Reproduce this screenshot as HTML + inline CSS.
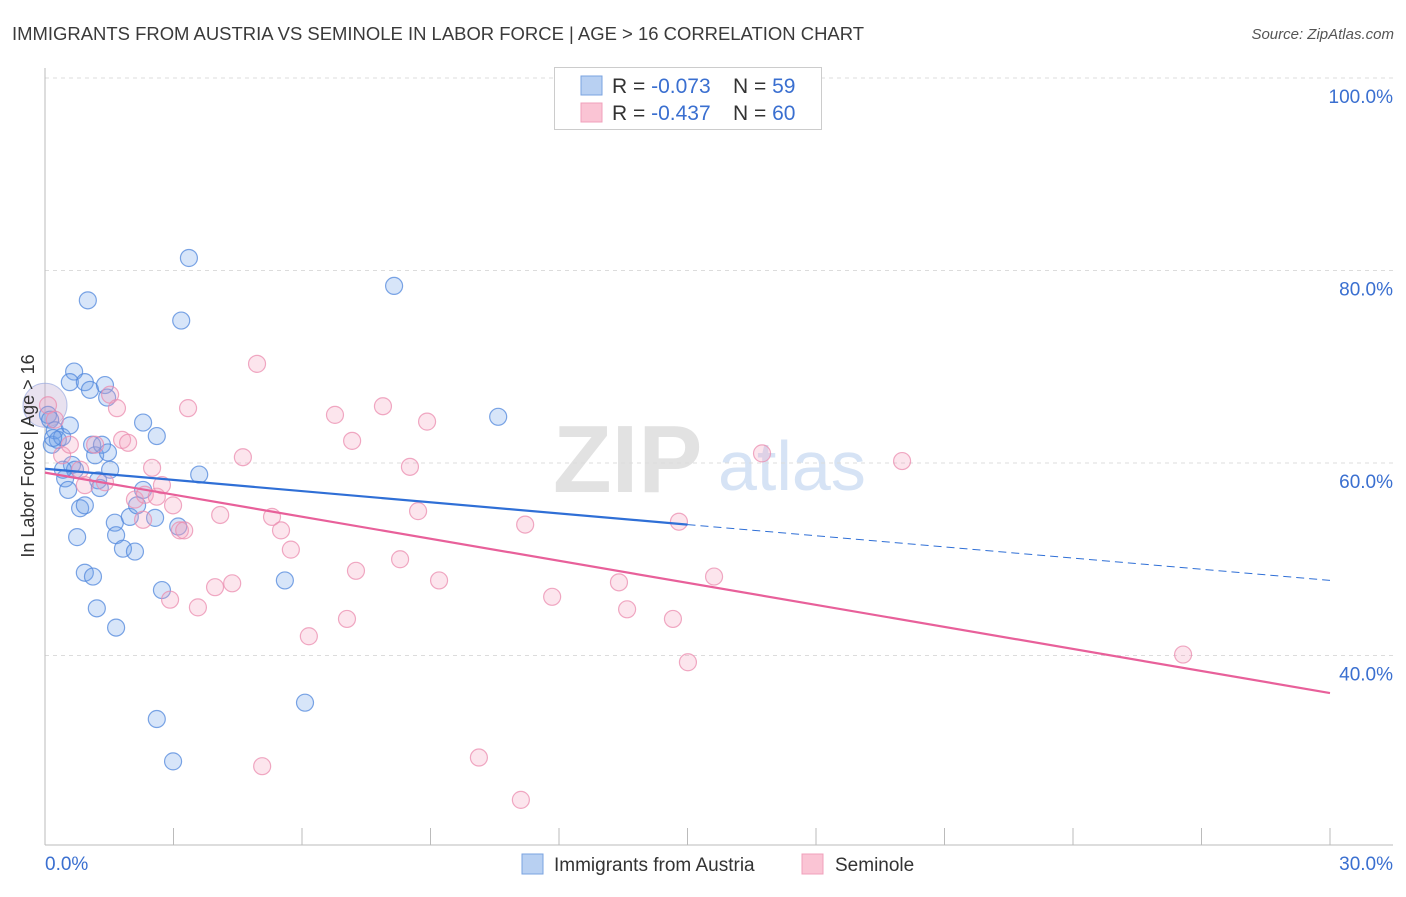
<!DOCTYPE html>
<html><head><meta charset="utf-8"><style>
body{margin:0;background:#fff;font-family:"Liberation Sans",sans-serif;}
svg text{font-family:"Liberation Sans",sans-serif;}
</style></head><body>
<svg id="chart" width="1406" height="892" xmlns="http://www.w3.org/2000/svg">
<text x="12" y="40" font-size="18" fill="#3a3a3a" textLength="852" lengthAdjust="spacingAndGlyphs">IMMIGRANTS FROM AUSTRIA VS SEMINOLE IN LABOR FORCE | AGE &gt; 16 CORRELATION CHART</text>
<text x="1394" y="39" font-size="15" fill="#555" font-style="italic" text-anchor="end">Source: ZipAtlas.com</text>
<g>
<text x="553" y="492" font-size="96" fill="#e2e2e2" font-family="Liberation Serif" font-weight="bold">ZIP</text>
<text x="718" y="490" font-size="70" fill="#d6e3f5">atlas</text>
</g>
<g id="grid"></g>
<g id="axes"></g>
<g id="marks"></g>
<g>
<rect x="554.5" y="67.5" width="267" height="62" fill="#fff" stroke="#ccc"/>
<rect x="581" y="76" width="21" height="19" fill="#b8d0f2" stroke="#7aa3e0"/>
<rect x="581" y="103" width="21" height="19" fill="#fac4d4" stroke="#f0a0bb"/>
<text x="612" y="93" font-size="21" fill="#333">R = <tspan fill="#3a6fd0">-0.073</tspan></text>
<text x="733" y="93" font-size="21" fill="#333">N = <tspan fill="#3a6fd0"> 59</tspan></text>
<text x="612" y="120" font-size="21" fill="#333">R = <tspan fill="#3a6fd0">-0.437</tspan></text>
<text x="733" y="120" font-size="21" fill="#333">N = <tspan fill="#3a6fd0">60</tspan></text>
</g>
<g>
<rect x="522" y="854" width="21" height="20" fill="#b8d0f2" stroke="#7aa3e0"/>
<text x="554" y="871" font-size="19" fill="#333">Immigrants from Austria</text>
<rect x="802" y="854" width="21" height="20" fill="#fac4d4" stroke="#f0a0bb"/>
<text x="835" y="871" font-size="19" fill="#333">Seminole</text>
</g>
<text transform="translate(34,456) rotate(-90)" font-size="18" fill="#333" text-anchor="middle">In Labor Force | Age &gt; 16</text>
</svg>
<script>
const yTicks=[40,60,80,100];
const yTickLabels=["40.0%","60.0%","80.0%","100.0%"];
const xTickLabels=["0.0%","30.0%"];
const blueX=[0.07,0.12,0.16,0.23,0.30,0.40,0.47,0.54,0.58,0.63,0.70,0.68,0.58,0.93,1.00,1.05,1.10,1.17,1.24,1.28,1.33,1.40,1.45,1.47,1.52,0.82,0.93,0.75,0.93,1.12,1.21,1.63,1.66,1.66,1.82,1.98,2.10,2.15,2.29,2.29,2.57,2.61,2.61,2.73,2.99,3.11,3.18,3.36,3.60,5.60,6.07,8.15,10.58,0.19,0.42];
const blueY=[65.0,64.5,61.9,63.4,62.4,62.7,58.4,57.2,63.9,59.8,59.3,69.5,68.4,68.4,76.9,67.6,61.9,60.8,58.2,57.4,61.9,68.1,66.8,61.1,59.3,55.3,55.6,52.3,48.6,48.2,44.9,53.8,52.5,42.9,51.1,54.4,50.8,55.6,64.2,57.2,54.3,62.8,33.4,46.8,29.0,53.4,74.8,81.3,58.8,47.8,35.1,78.4,64.8,62.6,59.3];
const pinkX=[0.07,0.23,0.40,0.58,0.82,0.93,1.17,1.40,1.52,1.68,1.80,1.94,2.10,2.29,2.33,2.50,2.61,2.73,2.92,2.99,3.15,3.25,3.34,3.57,3.97,4.09,4.37,4.62,4.95,5.07,5.30,5.51,5.74,6.16,6.77,7.05,7.17,7.26,7.89,8.29,8.52,8.71,8.92,9.20,10.13,11.11,11.21,11.84,13.40,13.59,14.66,14.80,15.01,15.62,16.74,20.01,26.57];
const pinkY=[66.0,64.5,60.8,61.9,59.3,57.7,61.9,58.0,67.1,65.7,62.4,62.1,56.2,54.1,56.7,59.5,56.5,57.7,45.8,55.6,53.0,53.0,65.7,45.0,47.1,54.6,47.5,60.6,70.3,28.5,54.4,53.0,51.0,42.0,65.0,43.8,62.3,48.8,65.9,50.0,59.6,55.0,64.3,47.8,29.4,25.0,53.6,46.1,47.6,44.8,43.8,53.9,39.3,48.2,61.0,60.2,40.1];
const blueTrend=[59.4,47.8]; const blueSolidEnd=15.0;
const pinkTrend=[59.0,36.1];
const X=v=>45+v/30*1285, Y=v=>78+(100-v)*9.625;
const NS="http://www.w3.org/2000/svg";
function mk(tag,attrs,parent){const e=document.createElementNS(NS,tag);for(const k in attrs)e.setAttribute(k,attrs[k]);parent.appendChild(e);return e;}
const grid=document.getElementById('grid'),axes=document.getElementById('axes'),marks=document.getElementById('marks');
yTicks.forEach((t,i)=>{
 const l=mk('line',{x1:45,x2:1393,y1:Y(t),y2:Y(t),stroke:'#dcdcdc','stroke-dasharray':'4,4'},grid);
 
 
 const tx=mk('text',{x:1393,y:Y(t)+25,'font-size':19,fill:'#3a6fd0','text-anchor':'end'},axes);
 tx.textContent=yTickLabels[i];
 
 
});
mk('line',{x1:45,x2:45,y1:68,y2:845,stroke:'#bbb'},axes);
mk('line',{x1:45,x2:1393,y1:845,y2:845,stroke:'#bbb'},axes);
for(let i=0;i<=10;i++){const t=mk('line',{x1:X(i*3),x2:X(i*3),y1:828,y2:845,stroke:'#bbb'},axes);
 
 }
const x0=mk('text',{x:45,y:870,'font-size':19,fill:'#3a6fd0'},axes);x0.textContent=xTickLabels[0];


const x1=mk('text',{x:1393,y:870,'font-size':19,fill:'#3a6fd0','text-anchor':'end'},axes);x1.textContent=xTickLabels[1];


const big=mk('circle',{cx:X(0),cy:Y(66),r:22,fill:'rgba(190,170,210,0.35)',stroke:'rgba(140,160,220,0.6)'},marks);


blueX.forEach((x,i)=>{const c=mk('circle',{cx:X(x),cy:Y(blueY[i]),r:8.5,fill:'rgba(110,160,235,0.28)',stroke:'rgba(80,135,220,0.75)','stroke-width':1.2},marks);
 
 });
pinkX.forEach((x,i)=>{const c=mk('circle',{cx:X(x),cy:Y(pinkY[i]),r:8.5,fill:'rgba(245,160,190,0.28)',stroke:'rgba(235,140,175,0.75)','stroke-width':1.2},marks);
 
 });
const bAt=x=>blueTrend[0]+(blueTrend[1]-blueTrend[0])*x/30;
let l=mk('line',{x1:X(0),y1:Y(bAt(0)),x2:X(blueSolidEnd),y2:Y(bAt(blueSolidEnd)),stroke:'#2f6fd6','stroke-width':2.2},marks);


l=mk('line',{x1:X(blueSolidEnd),y1:Y(bAt(blueSolidEnd)),x2:X(30),y2:Y(bAt(30)),stroke:'#2f6fd6','stroke-width':1,'stroke-dasharray':'8,5'},marks);


l=mk('line',{x1:X(0),y1:Y(pinkTrend[0]),x2:X(30),y2:Y(pinkTrend[1]),stroke:'#e8609a','stroke-width':2.2},marks);


</script>
</body></html>
